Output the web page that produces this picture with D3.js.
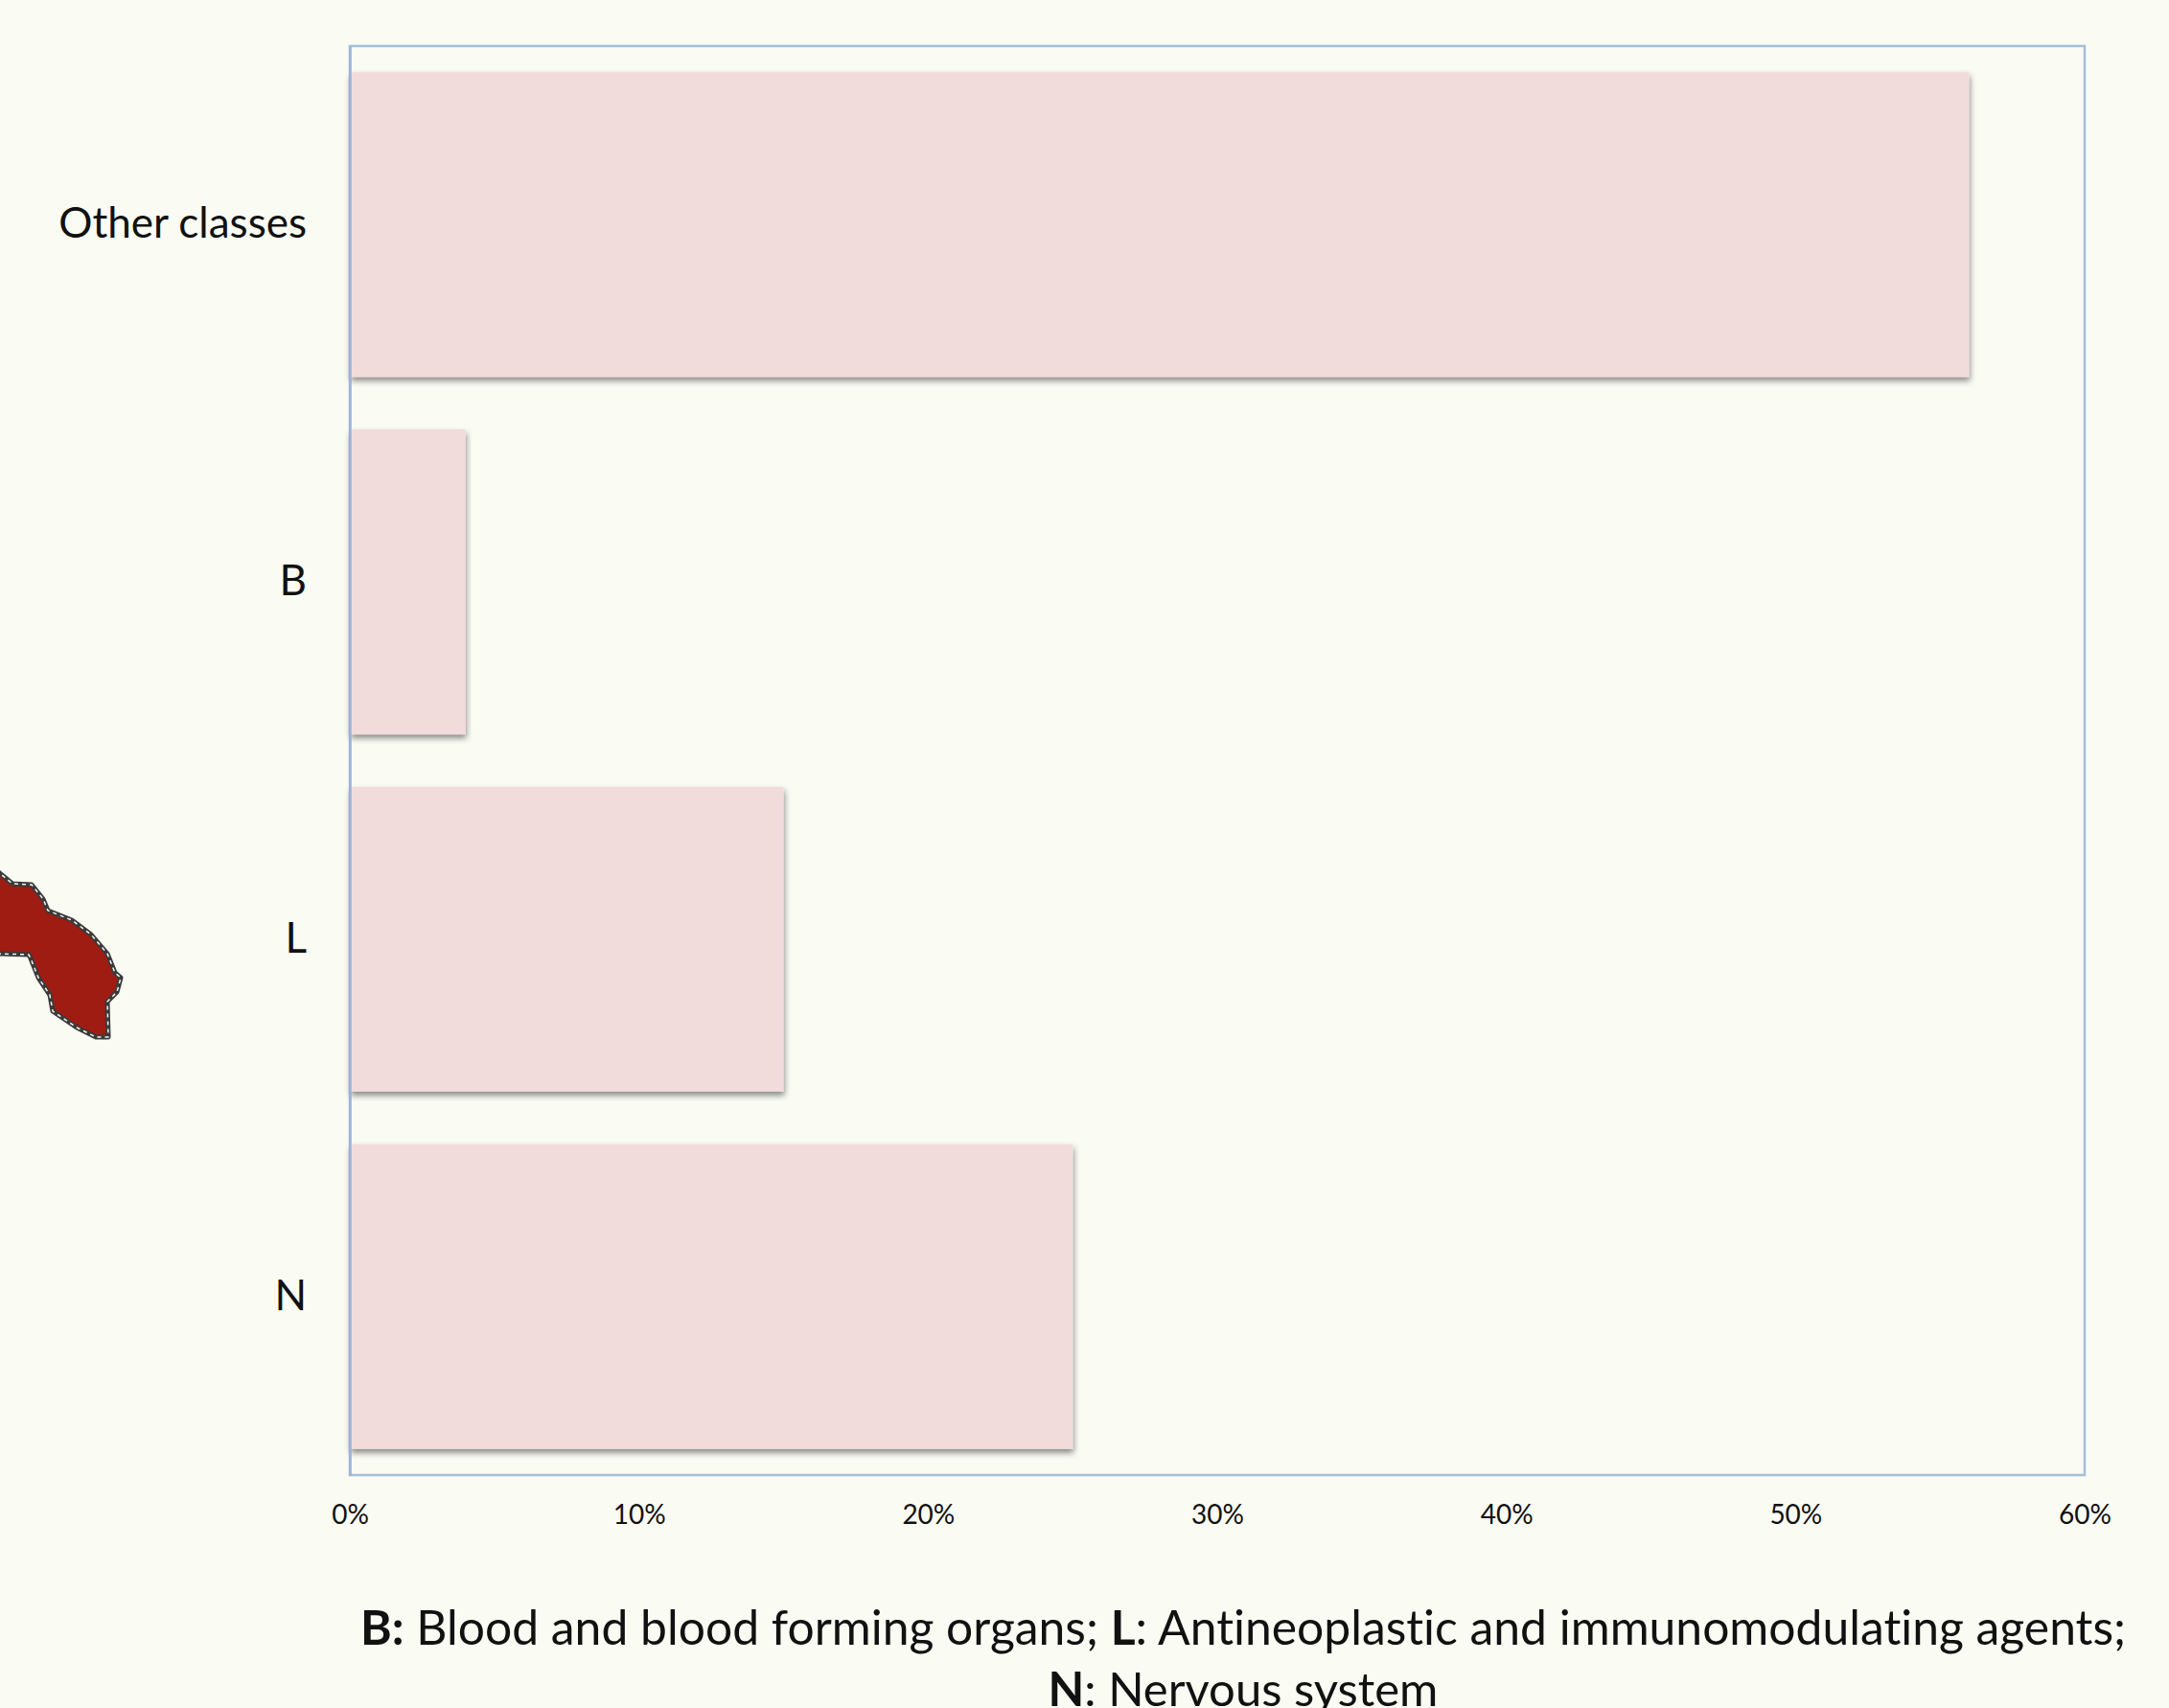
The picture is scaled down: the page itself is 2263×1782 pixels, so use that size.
<!DOCTYPE html>
<html>
<head>
<meta charset="utf-8">
<script src="https://cdn.jsdelivr.net/npm/d3@7"></script>
<style>
  html, body { margin: 0; padding: 0; background: #fafbf3; overflow: hidden; }
  text { font-family: Lato, "Noto Sans", sans-serif; fill: #111; font-variant-ligatures: none; }
</style>
</head>
<body>
<script>
// bar chart of drug classes
const categories = ["Other classes", "B", "L", "N"];
const percents = [56, 4, 15, 25];
const xTicks = [0, 10, 20, 30, 40, 50, 60];
const captionLine1 = [["B:", true], [" Blood and blood forming organs; ", false], ["L", true], [": Antineoplastic and immunomodulating agents;", false]];
const captionLine2 = [["N", true], [": Nervous system", false]];
// the red map fragment at the left edge of the slide
const blob = [[-4,908],[13,922],[33,923],[45,938],[50,950],[75,960],[95,975],[112,995],[120,1015],[126,1020],[122,1035],[112,1045],[113,1082],[100,1082],[80,1072],[55,1055],[52,1038],[40,1020],[32,1000],[30,996],[-4,995]];

const width = 2263, height = 1782;
const left = 365, right = 2175, top_ = 48, bottom = 1539;

const svg = d3.select("body").append("svg")
  .attr("width", width)
  .attr("height", height);

svg.append("rect")
  .attr("width", width)
  .attr("height", height)
  .attr("fill", "#fafbf3");

const filter = svg.append("defs").append("filter")
  .attr("id", "shadow")
  .attr("x", "-5%").attr("y", "-5%")
  .attr("width", "110%").attr("height", "110%");
filter.append("feDropShadow")
  .attr("dx", 1).attr("dy", 4)
  .attr("stdDeviation", 3)
  .attr("flood-color", "#000")
  .attr("flood-opacity", 0.45);

const x = d3.scaleLinear().domain([0, 60]).range([left, right]);
const y = d3.scaleBand().domain(categories).range([top_, bottom])
  .paddingInner(0.147)
  .paddingOuter(0.073);

// plot frame
svg.append("rect")
  .attr("x", left)
  .attr("y", top_)
  .attr("width", right - left)
  .attr("height", bottom - top_)
  .attr("fill", "none")
  .attr("stroke", "#a3bfdd")
  .attr("stroke-width", 2.5);

svg.selectAll("rect.bar")
  .data(categories)
  .enter()
  .append("rect")
  .attr("class", "bar")
  .attr("x", x(0))
  .attr("y", d => y(d))
  .attr("width", (d, i) => x(percents[i]) - x(0))
  .attr("height", y.bandwidth())
  .attr("fill", "#f2dcdb")
  .attr("filter", "url(#shadow)");

// left axis, sits on top of the bars
const yAxis = svg.append("g")
  .attr("transform", "translate(" + left + ",0)")
  .call(d3.axisLeft(y).tickSize(0).tickPadding(45));
yAxis.select(".domain").attr("stroke", "#9fb2d6").attr("stroke-width", 2.5);
yAxis.selectAll("text")
  .style("font-size", "44px")
  .attr("fill", "#111");

const xAxis = svg.append("g")
  .attr("transform", "translate(0," + bottom + ")")
  .call(d3.axisBottom(x).tickValues(xTicks).tickFormat(d => d + "%").tickSize(0).tickPadding(31));
xAxis.select(".domain").remove();
xAxis.selectAll("text")
  .style("font-size", "28px")
  .attr("fill", "#111");

// caption
function caption(parts, cx, baseline, size) {
  const t = svg.append("text")
    .attr("x", cx)
    .attr("y", baseline)
    .attr("text-anchor", "middle")
    .style("font-size", size + "px");
  parts.forEach(p => {
    t.append("tspan")
      .attr("font-weight", p[1] ? 700 : 400)
      .text(p[0]);
  });
}
caption(captionLine1, 1297, 1716, 49.8);
caption(captionLine2, 1297, 1780, 49);

// map fragment
const line = d3.line();
svg.append("path")
  .attr("d", line(blob) + "Z")
  .attr("fill", "#9e1c12")
  .attr("stroke", "#3a3a3a")
  .attr("stroke-width", 5)
  .attr("stroke-linejoin", "round");
svg.append("path")
  .attr("d", line(blob) + "Z")
  .attr("fill", "none")
  .attr("stroke", "#f3f3f0")
  .attr("stroke-width", 1.5)
  .attr("stroke-dasharray", "4 4");
</script>
</body>
</html>
